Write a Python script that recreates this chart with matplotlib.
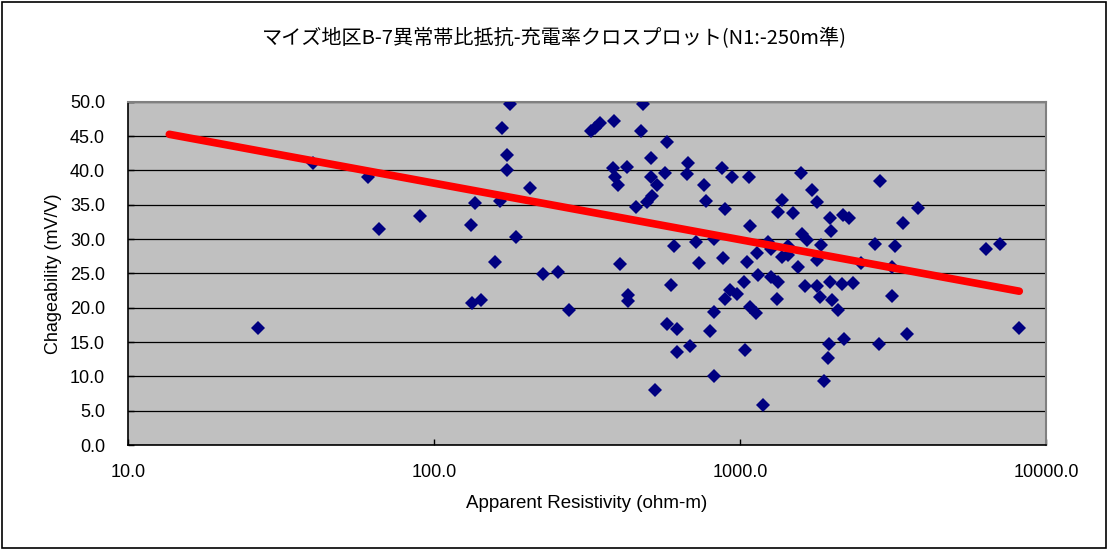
import numpy as np
import matplotlib
matplotlib.use('Agg')
import matplotlib.pyplot as plt
from matplotlib.patches import Rectangle

# apparent resistivity (ohm-m) and chargeability (mV/V)
resistivity = [
    40.3, 60.7, 66.0, 89.8, 26.7,
    177.2, 167.2, 172.8, 172.8, 135.8, 164.3, 132.1, 205.9, 184.9, 158.2,
    133.4, 142.4, 227.6, 254.8, 276.8, 483.1, 475.9, 388.3, 348.6, 326.0,
    335.9, 576.0, 513.1, 383.7, 426.3, 390.4, 398.4, 513.1, 567.5, 534.2,
    516.9, 495.6, 456.1, 676.2, 669.6, 762.8, 774.4, 871.3, 939.5, 1070,
    895.3, 1082, 405.4, 429.5, 429.5, 610.0, 716.4, 822.4, 882.0, 736.2,
    595.0, 576.0, 624.0, 624.0, 686.5, 824.3, 798.0, 824.3, 528.6, 1029,
    927.4, 975.4, 893.3, 1052, 1078, 1038,
    1579, 2868, 1715, 1781, 1369, 1328, 1494, 3808, 3418, 1968,
    2176, 2271, 1979, 1591, 1652, 1839, 1237, 1432, 1263, 1134,
    1375, 1438, 1781, 1544, 2480, 2762, 3210, 3132, 6366, 7074,
    1148, 1263, 1328, 1631, 1789, 1825, 1968, 2150, 2346, 1994,
    2096, 3132, 1318, 1128, 8177, 3506, 2853, 2188, 1953, 1934,
    1882, 1192,
]
chargeability = [
    41.1, 39.0, 31.5, 33.4, 17.1,
    49.7, 46.1, 42.3, 40.0, 35.3, 35.5, 32.1, 37.5, 30.3, 26.6,
    20.7, 21.1, 24.9, 25.2, 19.6, 49.6, 45.7, 47.2, 46.9, 45.7,
    46.1, 44.1, 41.8, 40.3, 40.5, 39.0, 37.8, 39.0, 39.6, 37.8,
    36.2, 35.4, 34.7, 41.0, 39.4, 37.8, 35.5, 40.4, 39.1, 39.0,
    34.4, 31.9, 26.4, 21.8, 21.0, 29.0, 29.5, 30.0, 27.3, 26.5,
    23.3, 17.6, 16.9, 13.5, 14.4, 19.3, 16.6, 10.1, 8.05, 23.8,
    22.6, 22.0, 21.2, 26.7, 20.1, 13.8,
    39.6, 38.5, 37.1, 35.4, 35.7, 33.9, 33.8, 34.5, 32.3, 33.1,
    33.5, 33.0, 31.2, 30.8, 29.8, 29.1, 29.6, 29.0, 28.6, 27.9,
    27.4, 27.7, 26.9, 25.9, 26.5, 29.3, 29.0, 25.9, 28.6, 29.3,
    24.8, 24.4, 23.7, 23.2, 23.1, 21.6, 23.8, 23.4, 23.6, 21.1,
    19.7, 21.7, 21.3, 19.2, 17.1, 16.1, 14.7, 15.4, 14.7, 12.6,
    9.3, 5.8,
]

# logarithmic trend line end points
trend_x = [13.65, 8177]
trend_y = [45.25, 22.4]

title = 'マイズ地区B-7異常帯比抵抗-充電率クロスプロット(N1:-250m準)'
x_ticks = [10, 100, 1000, 10000]
y_ticks = np.arange(0, 50.1, 5)

fig = plt.figure(figsize=(11.09, 5.5), dpi=100)
ax = fig.add_axes([0.1154, 0.1909, 0.8278, 0.6242])
ax.set_facecolor('#C0C0C0')

ax.plot(resistivity, chargeability, linestyle='none', marker='D', markersize=7,
        color='#000080', markeredgewidth=0, zorder=3)
ax.plot(trend_x, trend_y, color='#FF0000', linewidth=5.5, solid_capstyle='round', zorder=4)

ax.set_xscale('log')
ax.set_xlim(10, 10000)
ax.set_ylim(0, 50)
ax.set_xticks(x_ticks)
ax.set_xticklabels(['%.1f' % v for v in x_ticks])
ax.xaxis.set_minor_locator(matplotlib.ticker.NullLocator())
ax.set_yticks(y_ticks)
ax.set_yticklabels(['%.1f' % v for v in y_ticks])
ax.grid(axis='y', color='black', linewidth=0.9)
ax.set_axisbelow(True)

ax.tick_params(axis='both', direction='in', length=4, width=1)
ax.tick_params(axis='x', pad=14, labelsize=13)
ax.tick_params(axis='y', pad=16.5, labelsize=13)
for side in ['top', 'right']:
    ax.spines[side].set_color('#808080')
    ax.spines[side].set_linewidth(1.5)
for side in ['left', 'bottom']:
    ax.spines[side].set_color('black')
    ax.spines[side].set_linewidth(1.2)

for lab in ax.get_xticklabels() + ax.get_yticklabels():
    lab.set_family(['Liberation Sans', 'DejaVu Sans'])

ax.set_xlabel('Apparent Resistivity (ohm-m)', fontsize=13.5,
              family=['Liberation Sans', 'DejaVu Sans'], labelpad=10)
ax.set_ylabel('Chageability (mV/V)', fontsize=13,
              family=['Liberation Sans', 'DejaVu Sans'], labelpad=6)
fig.text(0.5, 0.93, title, ha='center', va='center', fontsize=14.5,
         family=['Noto Sans CJK JP', 'DejaVu Sans'])

fig.patches.append(Rectangle((0.002, 0.004), 0.995, 0.992, transform=fig.transFigure,
                             fill=False, edgecolor='black', linewidth=1.2))

fig.savefig('out.png', dpi=100)
